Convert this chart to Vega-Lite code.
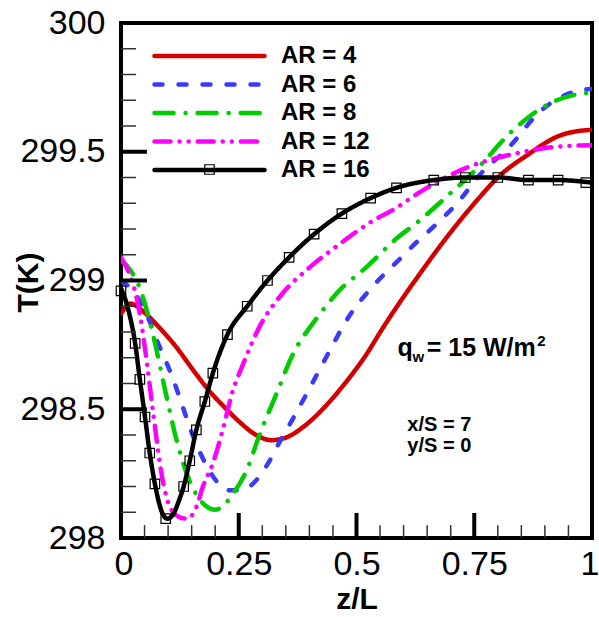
{
  "$schema": "https://vega.github.io/schema/vega-lite/v6.json",
  "width": 471,
  "height": 515,
  "autosize": {"type": "none"},
  "padding": {"left": 121, "top": 23, "right": 7, "bottom": 79},
  "background": "white",
  "config": {
    "view": {"stroke": "black", "strokeWidth": 4},
    "font": "Liberation Sans"
  },
  "datasets": {
    "curves": [
      {"case": "AR = 4", "z": 0, "T": 298.87}, {"case": "AR = 4", "z": 0.02, "T": 298.91}, {"case": "AR = 4", "z": 0.047, "T": 298.88}, {"case": "AR = 4", "z": 0.08, "T": 298.82}, {"case": "AR = 4", "z": 0.118, "T": 298.74}, {"case": "AR = 4", "z": 0.15, "T": 298.66}, {"case": "AR = 4", "z": 0.188, "T": 298.57}, {"case": "AR = 4", "z": 0.224, "T": 298.5}, {"case": "AR = 4", "z": 0.252, "T": 298.45}, {"case": "AR = 4", "z": 0.287, "T": 298.4}, {"case": "AR = 4", "z": 0.319, "T": 298.38}, {"case": "AR = 4", "z": 0.35, "T": 298.39}, {"case": "AR = 4", "z": 0.393, "T": 298.44}, {"case": "AR = 4", "z": 0.448, "T": 298.54}, {"case": "AR = 4", "z": 0.484, "T": 298.62}, {"case": "AR = 4", "z": 0.52, "T": 298.71}, {"case": "AR = 4", "z": 0.554, "T": 298.81}, {"case": "AR = 4", "z": 0.59, "T": 298.91}, {"case": "AR = 4", "z": 0.64, "T": 299.04}, {"case": "AR = 4", "z": 0.68, "T": 299.14}, {"case": "AR = 4", "z": 0.723, "T": 299.24}, {"case": "AR = 4", "z": 0.76, "T": 299.32}, {"case": "AR = 4", "z": 0.8, "T": 299.4}, {"case": "AR = 4", "z": 0.865, "T": 299.49}, {"case": "AR = 4", "z": 0.928, "T": 299.56}, {"case": "AR = 4", "z": 0.97, "T": 299.58}, {"case": "AR = 4", "z": 1.0, "T": 299.585},
      {"case": "AR = 6", "z": 0, "T": 299.0}, {"case": "AR = 6", "z": 0.02, "T": 298.97}, {"case": "AR = 6", "z": 0.04, "T": 298.92}, {"case": "AR = 6", "z": 0.061, "T": 298.84}, {"case": "AR = 6", "z": 0.078, "T": 298.76}, {"case": "AR = 6", "z": 0.099, "T": 298.67}, {"case": "AR = 6", "z": 0.11, "T": 298.62}, {"case": "AR = 6", "z": 0.131, "T": 298.51}, {"case": "AR = 6", "z": 0.152, "T": 298.4}, {"case": "AR = 6", "z": 0.182, "T": 298.28}, {"case": "AR = 6", "z": 0.203, "T": 298.22}, {"case": "AR = 6", "z": 0.23, "T": 298.185}, {"case": "AR = 6", "z": 0.25, "T": 298.185}, {"case": "AR = 6", "z": 0.273, "T": 298.2}, {"case": "AR = 6", "z": 0.309, "T": 298.28}, {"case": "AR = 6", "z": 0.336, "T": 298.37}, {"case": "AR = 6", "z": 0.364, "T": 298.46}, {"case": "AR = 6", "z": 0.4, "T": 298.58}, {"case": "AR = 6", "z": 0.435, "T": 298.7}, {"case": "AR = 6", "z": 0.484, "T": 298.86}, {"case": "AR = 6", "z": 0.541, "T": 298.99}, {"case": "AR = 6", "z": 0.59, "T": 299.08}, {"case": "AR = 6", "z": 0.617, "T": 299.13}, {"case": "AR = 6", "z": 0.67, "T": 299.22}, {"case": "AR = 6", "z": 0.723, "T": 299.32}, {"case": "AR = 6", "z": 0.752, "T": 299.39}, {"case": "AR = 6", "z": 0.83, "T": 299.53}, {"case": "AR = 6", "z": 0.886, "T": 299.65}, {"case": "AR = 6", "z": 0.943, "T": 299.72}, {"case": "AR = 6", "z": 0.98, "T": 299.74}, {"case": "AR = 6", "z": 1.0, "T": 299.745},
      {"case": "AR = 8", "z": 0, "T": 299.08}, {"case": "AR = 8", "z": 0.02, "T": 299.04}, {"case": "AR = 8", "z": 0.04, "T": 298.97}, {"case": "AR = 8", "z": 0.068, "T": 298.79}, {"case": "AR = 8", "z": 0.093, "T": 298.58}, {"case": "AR = 8", "z": 0.118, "T": 298.38}, {"case": "AR = 8", "z": 0.146, "T": 298.22}, {"case": "AR = 8", "z": 0.167, "T": 298.15}, {"case": "AR = 8", "z": 0.2, "T": 298.11}, {"case": "AR = 8", "z": 0.22, "T": 298.13}, {"case": "AR = 8", "z": 0.237, "T": 298.17}, {"case": "AR = 8", "z": 0.266, "T": 298.26}, {"case": "AR = 8", "z": 0.294, "T": 298.4}, {"case": "AR = 8", "z": 0.33, "T": 298.56}, {"case": "AR = 8", "z": 0.364, "T": 298.71}, {"case": "AR = 8", "z": 0.414, "T": 298.85}, {"case": "AR = 8", "z": 0.463, "T": 298.96}, {"case": "AR = 8", "z": 0.52, "T": 299.05}, {"case": "AR = 8", "z": 0.583, "T": 299.16}, {"case": "AR = 8", "z": 0.632, "T": 299.23}, {"case": "AR = 8", "z": 0.7, "T": 299.34}, {"case": "AR = 8", "z": 0.759, "T": 299.44}, {"case": "AR = 8", "z": 0.83, "T": 299.58}, {"case": "AR = 8", "z": 0.913, "T": 299.69}, {"case": "AR = 8", "z": 0.96, "T": 299.72}, {"case": "AR = 8", "z": 1.0, "T": 299.73},
      {"case": "AR = 12", "z": 0, "T": 299.09}, {"case": "AR = 12", "z": 0.012, "T": 299.05}, {"case": "AR = 12", "z": 0.025, "T": 298.99}, {"case": "AR = 12", "z": 0.04, "T": 298.87}, {"case": "AR = 12", "z": 0.055, "T": 298.68}, {"case": "AR = 12", "z": 0.068, "T": 298.49}, {"case": "AR = 12", "z": 0.089, "T": 298.22}, {"case": "AR = 12", "z": 0.104, "T": 298.12}, {"case": "AR = 12", "z": 0.125, "T": 298.08}, {"case": "AR = 12", "z": 0.14, "T": 298.075}, {"case": "AR = 12", "z": 0.16, "T": 298.12}, {"case": "AR = 12", "z": 0.174, "T": 298.2}, {"case": "AR = 12", "z": 0.195, "T": 298.29}, {"case": "AR = 12", "z": 0.216, "T": 298.42}, {"case": "AR = 12", "z": 0.237, "T": 298.57}, {"case": "AR = 12", "z": 0.258, "T": 298.67}, {"case": "AR = 12", "z": 0.294, "T": 298.82}, {"case": "AR = 12", "z": 0.343, "T": 298.95}, {"case": "AR = 12", "z": 0.4, "T": 299.05}, {"case": "AR = 12", "z": 0.463, "T": 299.14}, {"case": "AR = 12", "z": 0.533, "T": 299.23}, {"case": "AR = 12", "z": 0.583, "T": 299.28}, {"case": "AR = 12", "z": 0.632, "T": 299.34}, {"case": "AR = 12", "z": 0.723, "T": 299.43}, {"case": "AR = 12", "z": 0.83, "T": 299.49}, {"case": "AR = 12", "z": 0.928, "T": 299.52}, {"case": "AR = 12", "z": 1.0, "T": 299.525},
      {"case": "AR = 16", "z": 0, "T": 298.97}, {"case": "AR = 16", "z": 0.015, "T": 298.89}, {"case": "AR = 16", "z": 0.03, "T": 298.756}, {"case": "AR = 16", "z": 0.04, "T": 298.616}, {"case": "AR = 16", "z": 0.051, "T": 298.47}, {"case": "AR = 16", "z": 0.061, "T": 298.33}, {"case": "AR = 16", "z": 0.072, "T": 298.21}, {"case": "AR = 16", "z": 0.085, "T": 298.11}, {"case": "AR = 16", "z": 0.098, "T": 298.075}, {"case": "AR = 16", "z": 0.11, "T": 298.09}, {"case": "AR = 16", "z": 0.122, "T": 298.14}, {"case": "AR = 16", "z": 0.133, "T": 298.2}, {"case": "AR = 16", "z": 0.146, "T": 298.3}, {"case": "AR = 16", "z": 0.16, "T": 298.42}, {"case": "AR = 16", "z": 0.178, "T": 298.53}, {"case": "AR = 16", "z": 0.195, "T": 298.64}, {"case": "AR = 16", "z": 0.226, "T": 298.79}, {"case": "AR = 16", "z": 0.268, "T": 298.9}, {"case": "AR = 16", "z": 0.311, "T": 299.0}, {"case": "AR = 16", "z": 0.357, "T": 299.09}, {"case": "AR = 16", "z": 0.41, "T": 299.18}, {"case": "AR = 16", "z": 0.469, "T": 299.26}, {"case": "AR = 16", "z": 0.53, "T": 299.32}, {"case": "AR = 16", "z": 0.585, "T": 299.36}, {"case": "AR = 16", "z": 0.664, "T": 299.39}, {"case": "AR = 16", "z": 0.731, "T": 299.4}, {"case": "AR = 16", "z": 0.8, "T": 299.4}, {"case": "AR = 16", "z": 0.865, "T": 299.39}, {"case": "AR = 16", "z": 0.928, "T": 299.39}, {"case": "AR = 16", "z": 1.0, "T": 299.38}
    ],
    "symbols": [
      {"z": 0, "T": 298.96}, {"z": 0.03, "T": 298.756}, {"z": 0.04, "T": 298.616}, {"z": 0.051, "T": 298.47}, {"z": 0.061, "T": 298.33}, {"z": 0.072, "T": 298.21}, {"z": 0.095, "T": 298.075}, {"z": 0.133, "T": 298.2}, {"z": 0.146, "T": 298.3}, {"z": 0.16, "T": 298.42}, {"z": 0.178, "T": 298.53}, {"z": 0.195, "T": 298.64}, {"z": 0.226, "T": 298.79}, {"z": 0.268, "T": 298.9}, {"z": 0.311, "T": 299.0}, {"z": 0.357, "T": 299.09}, {"z": 0.41, "T": 299.18}, {"z": 0.469, "T": 299.26}, {"z": 0.53, "T": 299.32}, {"z": 0.585, "T": 299.36}, {"z": 0.664, "T": 299.39}, {"z": 0.731, "T": 299.4}, {"z": 0.8, "T": 299.4}, {"z": 0.865, "T": 299.39}, {"z": 0.928, "T": 299.39}, {"z": 0.987, "T": 299.38}
    ],
    "ymajor": [{"T": 298}, {"T": 298.5}, {"T": 299}, {"T": 299.5}, {"T": 300}],
    "yminor": [{"T": 298.1}, {"T": 298.2}, {"T": 298.3}, {"T": 298.4}, {"T": 298.6}, {"T": 298.7}, {"T": 298.8}, {"T": 298.9}, {"T": 299.1}, {"T": 299.2}, {"T": 299.3}, {"T": 299.4}, {"T": 299.6}, {"T": 299.7}, {"T": 299.8}, {"T": 299.9}],
    "xmajor": [{"z": 0.25}, {"z": 0.5}, {"z": 0.75}],
    "xminor": [{"z": 0.05}, {"z": 0.1}, {"z": 0.15}, {"z": 0.2}, {"z": 0.3}, {"z": 0.35}, {"z": 0.4}, {"z": 0.45}, {"z": 0.55}, {"z": 0.6}, {"z": 0.65}, {"z": 0.7}, {"z": 0.8}, {"z": 0.85}, {"z": 0.9}, {"z": 0.95}]
  },
  "layer": [
    {
      "data": {"name": "curves"},
      "mark": {"type": "line", "strokeWidth": 4.5, "strokeCap": "round", "interpolate": "monotone", "clip": true},
      "encoding": {
        "x": {
          "field": "z", "type": "quantitative",
          "scale": {"domain": [0, 1], "nice": false, "zero": false},
          "axis": {
            "values": [0, 0.25, 0.5, 0.75, 1],
            "format": ".2~f",
            "labelFont": "Liberation Sans", "labelFontSize": 34, "labelColor": "black",
            "labelPadding": 9, "ticks": false, "domain": false, "grid": false,
            "labelFlush": true, "labelFlushOffset": 7, "labelOverlap": false, "labelBound": false,
            "title": "z/L", "titleFont": "Liberation Sans", "titleFontSize": 30, "titleFontWeight": "bold", "titleColor": "black",
            "titleBaseline": "alphabetic", "titleY": 70
          }
        },
        "y": {
          "field": "T", "type": "quantitative",
          "scale": {"domain": [298, 300], "nice": false, "zero": false},
          "axis": {
            "values": [298, 298.5, 299, 299.5, 300],
            "format": ".1~f",
            "labelFont": "Liberation Sans", "labelFontSize": 34, "labelColor": "black",
            "labelPadding": 16, "ticks": false, "domain": false, "grid": false,
            "labelFlush": false, "labelOverlap": false, "labelBound": false,
            "title": "T(K)", "titleFont": "Liberation Sans", "titleFontSize": 30, "titleFontWeight": "bold", "titleColor": "black",
            "titleAngle": 270, "titleAlign": "center", "titleBaseline": "alphabetic", "titleX": -84, "titleY": 259
          }
        },
        "color": {
          "field": "case", "type": "nominal",
          "scale": {"domain": ["AR = 4", "AR = 6", "AR = 8", "AR = 12", "AR = 16"], "range": ["#d40000", "#3a3aff", "#00cc00", "#ff00ff", "#000000"]},
          "legend": {
            "orient": "none", "legendX": 31, "legendY": 21, "title": null,
            "symbolType": "stroke", "symbolSize": 12100, "symbolStrokeWidth": 4.5,
            "clipHeight": 24, "rowPadding": 4.5, "padding": 0, "symbolOffset": 0,
            "labelFont": "Liberation Sans", "labelFontSize": 24, "labelFontWeight": "bold", "labelColor": "black",
            "labelOffset": 14, "labelLimit": 300,
            "encode": {"symbols": {"update": {"strokeCap": {"value": "round"}}}}
          }
        },
        "strokeDash": {
          "field": "case", "type": "nominal",
          "scale": {"domain": ["AR = 4", "AR = 6", "AR = 8", "AR = 12", "AR = 16"], "range": [[1, 0], [8, 16], [19, 12, 0.1, 12], [16, 9, 0.1, 9, 0.1, 9], [1, 0]]},
          "legend": {
            "orient": "none", "legendX": 31, "legendY": 21, "title": null,
            "symbolType": "stroke", "symbolSize": 12100, "symbolStrokeWidth": 4.5,
            "clipHeight": 24, "rowPadding": 4.5, "padding": 0, "symbolOffset": 0,
            "labelFont": "Liberation Sans", "labelFontSize": 24, "labelFontWeight": "bold", "labelColor": "black",
            "labelOffset": 14, "labelLimit": 300,
            "encode": {"symbols": {"update": {"strokeCap": {"value": "round"}}}}
          }
        }
      }
    },
    {
      "data": {"name": "ymajor"},
      "mark": {"type": "rule", "strokeWidth": 4, "color": "black"},
      "encoding": {
        "y": {"field": "T", "type": "quantitative"},
        "x": {"datum": 0, "type": "quantitative"},
        "x2": {"datum": 0.055}
      }
    },
    {
      "data": {"name": "yminor"},
      "mark": {"type": "rule", "strokeWidth": 1.5, "color": "#333333"},
      "encoding": {
        "y": {"field": "T", "type": "quantitative"},
        "x": {"datum": 0, "type": "quantitative"},
        "x2": {"datum": 0.032}
      }
    },
    {
      "data": {"name": "xmajor"},
      "mark": {"type": "rule", "strokeWidth": 4, "color": "black"},
      "encoding": {
        "x": {"field": "z", "type": "quantitative"},
        "y": {"datum": 298, "type": "quantitative"},
        "y2": {"datum": 298.097}
      }
    },
    {
      "data": {"name": "xminor"},
      "mark": {"type": "rule", "strokeWidth": 1.5, "color": "#333333"},
      "encoding": {
        "x": {"field": "z", "type": "quantitative"},
        "y": {"datum": 298, "type": "quantitative"},
        "y2": {"datum": 298.05}
      }
    },
    {
      "data": {"name": "symbols"},
      "mark": {"type": "point", "size": 90, "filled": false, "stroke": "black", "strokeWidth": 1.2, "opacity": 1, "clip": false},
      "encoding": {
        "x": {"field": "z", "type": "quantitative"},
        "y": {"field": "T", "type": "quantitative"},
        "shape": {
          "datum": "AR = 16",
          "scale": {"range": ["square"]},
          "legend": {
            "orient": "none", "legendX": 83, "legendY": 141, "title": null,
            "labelExpr": "''", "labelOffset": 0, "padding": 0, "symbolOffset": 0,
            "symbolSize": 90, "symbolStrokeWidth": 1.2, "symbolStrokeColor": "black", "symbolFillColor": "white",
            "encode": {"symbols": {"update": {"fill": {"value": "white"}, "stroke": {"value": "black"}, "strokeWidth": {"value": 1.2}}}}
          }
        }
      }
    },
    {
      "data": {"values": [{}]},
      "mark": {"type": "text", "font": "Liberation Sans", "fontSize": 25, "fontWeight": "bold", "align": "left", "baseline": "alphabetic", "color": "black"},
      "encoding": {"x": {"datum": 0.587, "type": "quantitative"}, "y": {"datum": 298.707, "type": "quantitative"}, "text": {"value": "q"}}
    },
    {
      "data": {"values": [{}]},
      "mark": {"type": "text", "font": "Liberation Sans", "fontSize": 15, "fontWeight": "bold", "align": "left", "baseline": "alphabetic", "color": "black"},
      "encoding": {"x": {"datum": 0.619, "type": "quantitative"}, "y": {"datum": 298.683, "type": "quantitative"}, "text": {"value": "w"}}
    },
    {
      "data": {"values": [{}]},
      "mark": {"type": "text", "font": "Liberation Sans", "fontSize": 25, "fontWeight": "bold", "align": "left", "baseline": "alphabetic", "color": "black"},
      "encoding": {"x": {"datum": 0.649, "type": "quantitative"}, "y": {"datum": 298.707, "type": "quantitative"}, "text": {"value": "= 15 W/m"}}
    },
    {
      "data": {"values": [{}]},
      "mark": {"type": "text", "font": "Liberation Sans", "fontSize": 15, "fontWeight": "bold", "align": "left", "baseline": "alphabetic", "color": "black"},
      "encoding": {"x": {"datum": 0.884, "type": "quantitative"}, "y": {"datum": 298.745, "type": "quantitative"}, "text": {"value": "2"}}
    },
    {
      "data": {"values": [{}]},
      "mark": {"type": "text", "font": "Liberation Sans", "fontSize": 20, "fontWeight": "bold", "align": "left", "baseline": "alphabetic", "color": "black"},
      "encoding": {"x": {"datum": 0.608, "type": "quantitative"}, "y": {"datum": 298.415, "type": "quantitative"}, "text": {"value": "x/S = 7"}}
    },
    {
      "data": {"values": [{}]},
      "mark": {"type": "text", "font": "Liberation Sans", "fontSize": 20, "fontWeight": "bold", "align": "left", "baseline": "alphabetic", "color": "black"},
      "encoding": {"x": {"datum": 0.608, "type": "quantitative"}, "y": {"datum": 298.333, "type": "quantitative"}, "text": {"value": "y/S = 0"}}
    }
  ]
}
